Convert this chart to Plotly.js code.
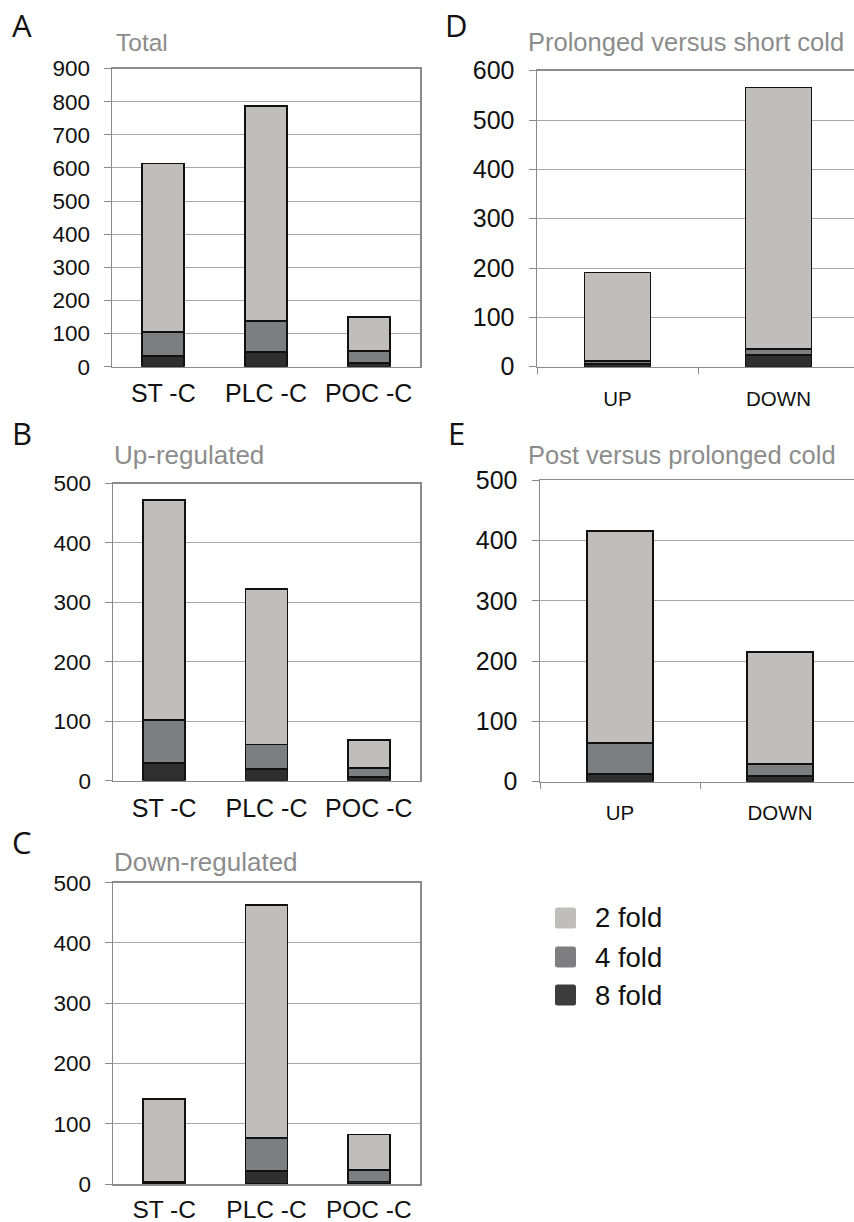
<!DOCTYPE html>
<html>
<head>
<meta charset="utf-8">
<script src="https://cdn.plot.ly/plotly-3.0.1.min.js"></script>
<style>
html,body{margin:0;padding:0;overflow:hidden;background:#fff;}
#chart{width:862px;height:1222px;}
</style>
</head>
<body>
<div id="chart"></div>
<script>
// ---------------- data ----------------
var groupCategories = ['ST -C', 'PLC -C', 'POC -C'];
var directionCategories = ['UP', 'DOWN'];
var seriesNames = ['2 fold', '4 fold', '8 fold'];

var total2fold = [508, 647, 104];
var total4fold = [73, 94, 35];
var total8fold = [32, 45, 12];

var up2fold = [370, 261, 47];
var up4fold = [72, 41, 15];
var up8fold = [30, 20, 6];

var down2fold = [138, 387, 59];
var down4fold = [1, 54, 19];
var down8fold = [2, 22, 4];

var prolonged2fold = [179, 530];
var prolonged4fold = [7, 12];
var prolonged8fold = [5, 24];

var post2fold = [352, 185];
var post4fold = [51, 21];
var post8fold = [13, 9];

var panelTitles = ['Total', 'Up-regulated', 'Down-regulated', 'Prolonged versus short cold', 'Post versus prolonged cold'];
var panelLetters = ['A', 'B', 'C', 'D', 'E'];

// ---------------- style ----------------
var W = 862, H = 1222;
var colors = {'2 fold': '#c0bebc', '4 fold': '#7c7e80', '8 fold': '#2f2f2f'};
var legendColors = {'2 fold': '#c0bebc', '4 fold': '#7e7e80', '8 fold': '#3c3c3c'};
var FONT = '"Liberation Sans", Arial, Helvetica, sans-serif';
var GRID = '#a8a8a8', FRAME = '#8a8a8a';

function fx(px) { return px / W; }
function fy(py) { return 1 - py / H; }

var traces = [];
function addPanel(idx, cats, s2, s4, s8) {
  var ax = idx === 0 ? '' : String(idx + 1);
  var data = {'8 fold': s8, '4 fold': s4, '2 fold': s2};
  ['8 fold', '4 fold', '2 fold'].forEach(function (name) {
    traces.push({
      type: 'bar', x: cats, y: data[name], name: name,
      xaxis: 'x' + ax, yaxis: 'y' + ax, showlegend: false,
      marker: {color: colors[name], line: {color: '#111', width: 1.8}},
      hoverinfo: 'x+y+name'
    });
  });
}
addPanel(0, groupCategories, total2fold, total4fold, total8fold);
addPanel(1, groupCategories, up2fold, up4fold, up8fold);
addPanel(2, groupCategories, down2fold, down4fold, down8fold);
addPanel(3, directionCategories, prolonged2fold, prolonged4fold, prolonged8fold);
addPanel(4, directionCategories, post2fold, post4fold, post8fold);

var boxes = [
  {l: 112, r: 420, t: 68.5, b: 366.7, ymax: 900, tick: 22.5, xfont: 25, xticks: false, xs: 4},
  {l: 113, r: 420, t: 483.5, b: 780.7, ymax: 500, tick: 22.5, xfont: 25, xticks: false, xs: 5},
  {l: 113, r: 420, t: 882.7, b: 1184, ymax: 500, tick: 22.5, xfont: 24.5, xticks: false, xs: 3},
  {l: 537, r: 859, t: 70.7, b: 366.7, ymax: 600, tick: 25, xfont: 20.5, xticks: true, xs: 13},
  {l: 540, r: 860, t: 480.3, b: 781.7, ymax: 500, tick: 25, xfont: 20.5, xticks: true, xs: 12}
];

var layout = {
  width: W, height: H,
  margin: {l: 0, r: 0, t: 0, b: 0},
  paper_bgcolor: '#fff', plot_bgcolor: '#fff',
  barmode: 'stack', bargap: 0.59,
  showlegend: false,
  font: {family: FONT, color: '#111'},
  annotations: [], shapes: []
};

boxes.forEach(function (b, i) {
  var ax = i === 0 ? '' : String(i + 1);
  layout['xaxis' + ax] = {
    domain: [fx(b.l), fx(b.r)], anchor: 'y' + ax,
    showline: true, linecolor: FRAME, linewidth: 1.5, mirror: true,
    showgrid: false, zeroline: false,
    ticks: b.xticks ? 'outside' : '', tickson: b.xticks ? 'boundaries' : 'labels',
    ticklen: 6, tickcolor: FRAME, tickwidth: 1,
    tickfont: {family: FONT, size: b.xfont, color: '#111'},
    ticklabelstandoff: b.xs,
    fixedrange: true
  };
  layout['yaxis' + ax] = {
    domain: [fy(b.b), fy(b.t)], anchor: 'x' + ax,
    range: [0, b.ymax], dtick: 100, tick0: 0,
    showline: true, linecolor: FRAME, linewidth: 1.5, mirror: true,
    showgrid: true, gridcolor: GRID, gridwidth: 1, zeroline: false,
    ticks: 'outside', ticklen: 7, tickcolor: FRAME, tickwidth: 1,
    tickfont: {family: FONT, size: b.tick, color: '#111'},
    ticklabelstandoff: 9,
    fixedrange: true
  };
});

var titlePos = [[114, 42], [112, 455], [112, 862], [526, 42], [526, 455.5]];
var titleSize = [24.5, 26, 26, 25.5, 25.5];
var letterPos = [[10, 25], [10, 433], [10, 842], [443, 25], [446, 433]];
for (var i = 0; i < 5; i++) {
  layout.annotations.push({
    xref: 'paper', yref: 'paper', x: fx(titlePos[i][0]), y: fy(titlePos[i][1]),
    xanchor: 'left', yanchor: 'middle', showarrow: false,
    text: panelTitles[i], font: {family: FONT, size: titleSize[i], color: '#8c8c8c'}
  });
  layout.annotations.push({
    xref: 'paper', yref: 'paper', x: fx(letterPos[i][0]), y: fy(letterPos[i][1]),
    xanchor: 'left', yanchor: 'middle', showarrow: false,
    text: panelLetters[i], font: {family: '"Open Sans", sans-serif', size: 31, color: '#111'}
  });
}

var legendY = [918, 957, 995];
seriesNames.forEach(function (name, k) {
  var cy = legendY[k];
  var x0 = 555, x1 = 576, y0 = cy - 10.5, y1 = cy + 10.5, r = 2.5;
  var pts = [
    'M', fx(x0 + r), fy(y0), 'L', fx(x1 - r), fy(y0), 'Q', fx(x1), fy(y0), fx(x1), fy(y0 + r),
    'L', fx(x1), fy(y1 - r), 'Q', fx(x1), fy(y1), fx(x1 - r), fy(y1),
    'L', fx(x0 + r), fy(y1), 'Q', fx(x0), fy(y1), fx(x0), fy(y1 - r),
    'L', fx(x0), fy(y0 + r), 'Q', fx(x0), fy(y0), fx(x0 + r), fy(y0), 'Z'
  ];
  layout.shapes.push({
    type: 'path', xref: 'paper', yref: 'paper', path: pts.join(' '),
    fillcolor: legendColors[name], line: {width: 0}
  });
  layout.annotations.push({
    xref: 'paper', yref: 'paper', x: fx(593), y: fy(cy),
    xanchor: 'left', yanchor: 'middle', showarrow: false,
    text: name, font: {family: FONT, size: 27.5, color: '#111'}
  });
});

Plotly.newPlot('chart', traces, layout, {displayModeBar: false, staticPlot: true});
</script>
</body>
</html>
